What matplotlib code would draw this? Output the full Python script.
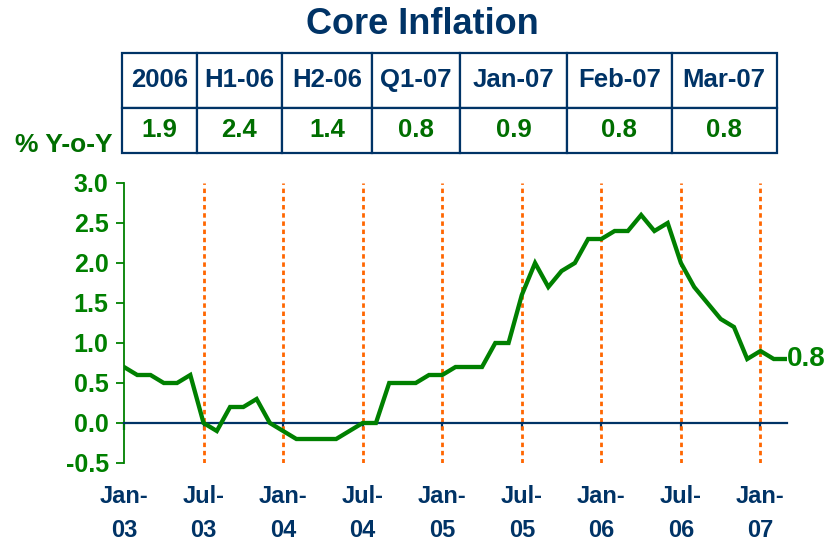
import matplotlib
matplotlib.use("Agg")
import matplotlib.pyplot as plt
import matplotlib.transforms as mtransforms

plt.rcParams['font.family'] = ['Liberation Sans', 'DejaVu Sans']
plt.rcParams['font.weight'] = 'bold'

# monthly core inflation, % y-o-y, Jan-03 .. Mar-07
coreInflation = [
    0.7, 0.6, 0.6, 0.5, 0.5, 0.6, 0.0, -0.1, 0.2, 0.2, 0.3, 0.0,   # 2003
    -0.1, -0.2, -0.2, -0.2, -0.2, -0.1, 0.0, 0.0, 0.5, 0.5, 0.5, 0.6,  # 2004
    0.6, 0.7, 0.7, 0.7, 1.0, 1.0, 1.6, 2.0, 1.7, 1.9, 2.0, 2.3,   # 2005
    2.3, 2.4, 2.4, 2.6, 2.4, 2.5, 2.0, 1.7, 1.5, 1.3, 1.2, 0.8,   # 2006
    0.9, 0.8, 0.8,                                                # 2007
]
tickLabels = ['Jan-\n03', 'Jul-\n03', 'Jan-\n04', 'Jul-\n04', 'Jan-\n05',
              'Jul-\n05', 'Jan-\n06', 'Jul-\n06', 'Jan-\n07']
yTicks = [-0.5, 0.0, 0.5, 1.0, 1.5, 2.0, 2.5, 3.0]

tableHeaders = ['2006', 'H1-06', 'H2-06', 'Q1-07', 'Jan-07', 'Feb-07', 'Mar-07']
tableValues = ['1.9', '2.4', '1.4', '0.8', '0.9', '0.8', '0.8']
colEdges = [121.7, 196.7, 282, 372, 460, 567, 671.7, 776.7]  # pixel edges of the table columns

navy = '#003366'
green = '#008000'
darkGreen = '#006e00'
orange = '#ff6600'

W, H = 829, 546
fig = plt.figure(figsize=(W / 100, H / 100), dpi=100)

# main line chart
ax = fig.add_axes([124 / W, (H - 463) / H, (787 - 124) / W, 280 / H])
months = list(range(len(coreInflation)))
ax.plot(months, coreInflation, color=green, linewidth=3.1, solid_joinstyle='miter', zorder=4)
ax.set_xlim(0, len(coreInflation) - 1)
ax.set_ylim(-0.5, 3.0)

# I mark every half year with a dotted orange divider
for m in range(6, len(coreInflation), 6):
    ax.axvline(m, color=orange, linewidth=2.0, linestyle=(0, (1.6, 1.35)), zorder=2)

ax.spines['top'].set_visible(False)
ax.spines['right'].set_visible(False)
ax.spines['left'].set_color(green)
ax.spines['left'].set_linewidth(1.3)
ax.spines['bottom'].set_position(('data', 0))
ax.spines['bottom'].set_color(navy)
ax.spines['bottom'].set_linewidth(1.6)
ax.spines['bottom'].set_zorder(3)

ax.set_yticks(yTicks)
ax.set_yticklabels([f'{v:.1f}' for v in yTicks])
ax.tick_params(axis='y', colors=green, labelcolor=green, length=6, width=1.3,
               labelsize=18, pad=5)
ax.set_xticks(list(range(0, len(coreInflation), 6)))
ax.set_xticklabels([])
ax.tick_params(axis='x', colors=navy, length=5, width=1.6, direction='out')

trans = mtransforms.blended_transform_factory(ax.transData, ax.transAxes)
for i, lab in enumerate(tickLabels):
    ax.text(i * 6, -0.08, lab, transform=trans, ha='center', va='top',
            fontsize=17, color=navy, linespacing=1.6)

ax.annotate(f'{coreInflation[-1]:.1f}', xy=(months[-1], coreInflation[-1]),
            xytext=(0, 0), textcoords='offset points', ha='left', va='center',
            fontsize=20, color=green, annotation_clip=False)

# title
fig.text(422 / W, 1 - 24 / H, 'Core Inflation', ha='center', va='center',
         fontsize=26, color=navy)

# summary table
tAx = fig.add_axes([colEdges[0] / W, (H - 153) / H, (colEdges[-1] - colEdges[0]) / W, (153 - 52.7) / H])
tAx.axis('off')
total = colEdges[-1] - colEdges[0]
widths = [(colEdges[i + 1] - colEdges[i]) / total for i in range(len(tableHeaders))]
tbl = tAx.table(cellText=[tableHeaders, tableValues], colWidths=widths,
                cellLoc='center', bbox=[0, 0, 1, 1])
tbl.auto_set_font_size(False)
for (r, c), cell in tbl.get_celld().items():
    cell.set_edgecolor(navy)
    cell.set_linewidth(1.6)
    cell.set_height(55 if r == 0 else 45)
    txt = cell.get_text()
    txt.set_fontsize(18.5)
    txt.set_fontweight('bold')
    txt.set_color(navy if r == 0 else darkGreen)

fig.text(113 / W, 1 - 151.5 / H, '% Y-o-Y', ha='right', va='baseline',
         fontsize=19, color=darkGreen)

fig.savefig('out.png', dpi=100)
